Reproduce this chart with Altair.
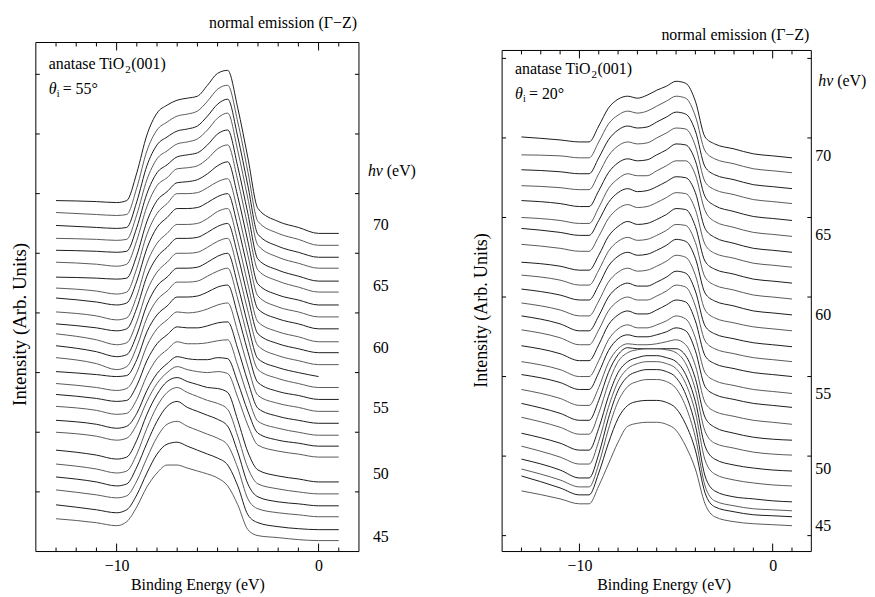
import altair as alt
import pandas as pd

FONT = "Liberation Serif"

# ---------------- data ----------------
binding_energy = [-13, -11, -10, -9.5, -9, -8.5, -8, -7.5, -7, -6.5, -6, -5.5,
                  -5, -4.5, -4, -3.5, -3, -2, -1, 0, 1]
photon_energy = [70, 69, 68, 67, 66, 65, 64, 63, 62, 61, 60, 59, 58, 57, 56,
                 55, 54, 53, 52, 51, 50, 49, 48, 47, 46, 45]

# theta_i = 55 deg panel : vertical offset of each spectrum and its profile
left_offset = [320, 308, 296, 285, 272, 261, 248, 236, 224, 211, 200, 188, 176,
               165, 153, 141, 129, 117, 106, 95, 70, 58, 46, 35, 22, 11]
left_profile = [
    [33, 32, 31, 33, 61, 99, 121, 129, 134, 136, 138, 149, 161, 164, 126, 76, 25, 12, 6, 0, 0],
    [33, 31, 30, 31, 58, 95, 116, 124, 130, 132, 135, 145, 157, 161, 124, 74, 24, 12, 6, 0, 0],
    [32, 30, 29, 30, 56, 92, 113, 121, 127, 129, 132, 142, 154, 159, 121, 72, 23, 11, 5, 0, 0],
    [30, 29, 28, 29, 54, 89, 110, 118, 125, 127, 130, 139, 151, 156, 118, 70, 23, 11, 5, 0, 0],
    [31, 30, 29, 30, 54, 88, 109, 117, 125, 127, 129, 137, 148, 152, 115, 68, 22, 11, 5, 0, 0],
    [30, 28, 26, 28, 52, 86, 107, 115, 124, 125, 127, 134, 144, 148, 112, 66, 22, 11, 5, 0, 0],
    [28, 27, 26, 27, 50, 84, 105, 114, 123, 124, 126, 132, 140, 144, 109, 64, 21, 10, 5, 0, 0],
    [29, 26, 23, 25, 49, 83, 104, 114, 124, 124, 125, 130, 136, 139, 106, 62, 21, 10, 5, 0, 0],
    [31, 27, 24, 26, 48, 81, 102, 112, 121, 121, 122, 127, 133, 136, 103, 60, 20, 10, 5, 0, 0],
    [30, 26, 22, 24, 46, 79, 99, 109, 118, 118, 119, 124, 131, 134, 101, 58, 20, 10, 5, 0, 0],
    [29, 25, 22, 24, 45, 77, 96, 106, 115, 115, 116, 121, 127, 130, 98, 56, 19, 9, 4, 0, 0],
    [31, 25, 20, 22, 43, 74, 93, 103, 112, 112, 113, 118, 124, 127, 95, 54, 19, 9, 4, 0, 0],
    [31, 25, 20, 22, 42, 72, 91, 100, 109, 109, 110, 115, 121, 124, 92, 52, 18, 9, 4, 0, None],
    [30, 24, 18, 21, 41, 70, 88, 97, 106, 106, 107, 112, 117, 120, 89, 50, 18, 9, 4, 0, 0],
    [28, 25, 23, 24, 40, 68, 85, 94, 103, 103, 104, 108, 113, 115, 85, 48, 17, 8, 4, 0, 0],
    [28, 24, 21, 23, 39, 66, 83, 92, 100, 99, 100, 103, 107, 109, 80, 45, 16, 8, 4, 0, 0],
    [29, 25, 22, 23, 38, 63, 80, 89, 97, 96, 96, 98, 101, 102, 75, 42, 15, 7, 3, 0, 0],
    [29, 25, 21, 22, 36, 60, 77, 86, 94, 92, 92, 93, 95, 96, 70, 39, 14, 7, 3, 0, 0],
    [26, 22, 18, 20, 33, 56, 73, 83, 90, 88, 87, 87, 89, 88, 64, 35, 13, 6, 3, 0, 0],
    [25, 21, 17, 19, 33, 56, 74, 85, 91, 88, 86, 85, 86, 84, 60, 32, 12, 6, 3, 0, 0],
    [32, 27, 23, 25, 42, 68, 88, 101, 105, 101, 98, 95, 94, 90, 62, 30, 12, 6, 3, 0, 0],
    [30, 25, 21, 23, 40, 66, 88, 102, 107, 102, 98, 94, 91, 85, 58, 26, 10, 5, 2, 0, 0],
    [29, 24, 20, 22, 39, 63, 85, 100, 105, 99, 95, 91, 87, 80, 54, 22, 9, 4, 2, 0, 0],
    [27, 22, 19, 21, 36, 59, 80, 93, 96, 91, 87, 83, 79, 72, 49, 18, 8, 4, 2, 0, 0],
    [25, 20, 17, 20, 35, 57, 76, 86, 88, 84, 80, 76, 72, 65, 44, 15, 7, 3, 1, 0, 0],
    [22, 18, 15, 19, 34, 54, 68, 76, 76, 73, 70, 67, 63, 55, 36, 11, 5, 3, 1, 0, 0],
]

# theta_i = 20 deg panel
right_offset = [380, 365, 349, 334, 317, 301, 285, 270, 254, 238, 222, 206, 190,
                175, 160, 143, 129, 112, 96, 81, 65, 50, 34, 25, 19, 10]
right_profile = [
    [21, 18, 16, 16, 32, 50, 59, 62, 60, 63, 68, 72, 77, 75, 57, 21, 14, 9, 4, 2, 0],
    [18, 17, 15, 15, 31, 49, 58, 62, 60, 62, 67, 72, 77, 75, 57, 22, 14, 9, 4, 2, 0],
    [19, 17, 15, 15, 31, 49, 59, 63, 61, 62, 67, 72, 77, 75, 58, 22, 14, 9, 4, 2, 0],
    [18, 16, 14, 14, 30, 48, 58, 62, 60, 61, 66, 71, 76, 75, 58, 22, 14, 9, 4, 2, 0],
    [20, 17, 14, 14, 30, 48, 58, 62, 60, 61, 66, 71, 77, 76, 60, 24, 15, 9, 4, 2, 0],
    [19, 16, 13, 13, 29, 48, 58, 63, 61, 61, 66, 71, 76, 76, 62, 26, 15, 9, 4, 2, 0],
    [24, 20, 17, 17, 32, 50, 60, 64, 61, 62, 66, 71, 76, 75, 60, 24, 15, 9, 4, 2, 0],
    [23, 19, 16, 16, 31, 49, 59, 63, 60, 61, 65, 70, 75, 74, 58, 23, 14, 9, 4, 2, 0],
    [21, 17, 13, 13, 28, 47, 57, 62, 59, 60, 64, 69, 75, 74, 57, 22, 14, 9, 4, 2, 0],
    [24, 19, 14, 14, 29, 48, 58, 62, 59, 60, 64, 69, 75, 74, 57, 22, 14, 9, 4, 2, 0],
    [26, 20, 15, 15, 30, 49, 59, 63, 60, 61, 65, 70, 76, 74, 57, 22, 14, 9, 4, 2, 0],
    [28, 21, 15, 15, 30, 49, 59, 63, 60, 61, 65, 70, 76, 74, 56, 21, 13, 8, 4, 2, 0],
    [31, 23, 16, 16, 31, 50, 60, 64, 61, 61, 65, 70, 76, 74, 56, 21, 13, 8, 4, 2, 0],
    [32, 24, 17, 17, 32, 51, 61, 65, 62, 62, 66, 71, 77, 75, 56, 21, 13, 8, 4, 2, 0],
    [31, 23, 16, 16, 32, 52, 62, 66, 63, 63, 67, 72, 77, 75, 56, 21, 13, 8, 4, 2, 0],
    [32, 24, 17, 17, 33, 54, 65, 69, 66, 66, 69, 73, 78, 75, 56, 21, 13, 8, 4, 2, 0],
    [33, 25, 18, 18, 35, 57, 69, 73, 71, 71, 73, 76, 80, 77, 57, 21, 13, 8, 4, 2, 0],
    [35, 26, 19, 19, 37, 62, 76, 81, 80, 80, 81, 83, 85, 80, 59, 22, 13, 8, 4, 2, 0],
    [37, 27, 20, 20, 40, 68, 86, 93, 92, 92, 92, 92, 92, 85, 62, 23, 13, 7, 3, 1, 0],
    [38, 28, 21, 21, 42, 72, 94, 103, 106, 107, 107, 106, 103, 92, 66, 24, 12, 7, 3, 1, 0],
    [38, 28, 21, 21, 43, 75, 99, 110, 114, 116, 116, 114, 110, 97, 70, 25, 12, 6, 3, 1, 0],
    [40, 29, 22, 22, 45, 79, 105, 118, 123, 125, 125, 123, 118, 103, 74, 26, 12, 6, 3, 1, 0],
    [43, 32, 24, 24, 48, 84, 112, 126, 131, 133, 133, 131, 125, 108, 77, 26, 11, 5, 3, 1, 0],
    [42, 31, 24, 24, 47, 82, 110, 125, 130, 132, 132, 130, 123, 105, 74, 25, 10, 5, 2, 1, 0],
    [41, 29, 22, 22, 44, 74, 99, 112, 116, 117, 117, 115, 109, 93, 67, 24, 10, 5, 2, 1, 0],
    [35, 27, 22, 22, 40, 62, 84, 100, 103, 104, 104, 102, 96, 80, 57, 22, 9, 4, 2, 1, 0],
]

hv_labels = ["70", "65", "60", "55", "50", "45"]
left_label_pos = [328, 267, 205, 144, 78, 15]
right_label_pos = [382, 302, 222, 142, 67, 10]
left_intensity_ticks = [60, 120, 180, 240, 300, 360, 420, 480]
right_intensity_ticks = [0, 80, 160, 240, 320, 400, 480]
minor_energy_ticks = [-13, -12, -11, -9, -8, -7, -6, -5, -4, -3, -2, -1, 1]
major_energy_ticks = [-10, 0]

H = 512


def spectra(offsets, profiles):
    rows = []
    for i, (hv, off, prof) in enumerate(zip(photon_energy, offsets, profiles)):
        for e, v in zip(binding_energy, prof):
            if v is None:
                continue
            rows.append({"hv": hv, "E": e, "I": off + v, "shade": "a" if i % 2 == 0 else "b"})
    return pd.DataFrame(rows)


def note(text, x, y, size=16, italic=False, align="left", baseline="alphabetic"):
    kw = dict(align=align, baseline=baseline, font=FONT, fontSize=size, color="black")
    if italic:
        kw["fontStyle"] = "italic"
    return alt.Chart(pd.DataFrame({"t": [text]})).mark_text(**kw).encode(
        x=alt.value(x), y=alt.value(y), text="t:N")


def panel(df, W, ydom, top_px, yticks, label_pos, label_dx, hv_h, hv_dx,
          title_y, annot_y, theta_text, ytitle_x, ytitle_y, ytitle_size, xtitle_x, anchor):
    xs = alt.Scale(domain=[-14, 2], nice=False, zero=False)
    ys = alt.Scale(domain=ydom, nice=False, zero=False)
    x_axis = alt.Axis(
        values=major_energy_ticks, ticks=False, tickSize=0, domain=False, grid=False,
        labelFont=FONT, labelFontSize=16, labelColor="black", labelPadding=19,
        labelBaseline="alphabetic", title="Binding Energy (eV)", titleFont=FONT,
        titleFontSize=16, titleFontWeight="normal", titleColor="black",
        titleBaseline="alphabetic", titleX=xtitle_x, titleY=38)
    y_axis = alt.Axis(
        labels=False, ticks=False, domain=False, grid=False,
        title="Intensity (Arb. Units)", titleFont=FONT, titleFontSize=ytitle_size,
        titleFontWeight="normal", titleColor="black", titleAngle=270,
        titleX=ytitle_x, titleY=ytitle_y, titleBaseline="middle", titleAlign="center")
    lines = alt.Chart(df).mark_line(interpolate="monotone", strokeWidth=1).encode(
        x=alt.X("E:Q", scale=xs, axis=x_axis),
        y=alt.Y("I:Q", scale=ys, axis=y_axis),
        detail="hv:N",
        color=alt.Color("shade:N", scale=alt.Scale(domain=["a", "b"], range=["#1c1c1c", "#5a5a5a"]),
                        legend=None))

    minor_df = pd.DataFrame({"E": minor_energy_ticks})
    major_df = pd.DataFrame({"E": major_energy_ticks})
    ytick_df = pd.DataFrame({"I": yticks})
    rule = dict(color="black", strokeWidth=1)
    xt = alt.X("E:Q", scale=xs)
    yt = alt.Y("I:Q", scale=ys)
    one = pd.DataFrame({"k": [0]})
    layers = [
        lines,
        alt.Chart(minor_df).mark_rule(**rule).encode(x=xt, y=alt.value(H), y2=alt.value(H - 4)),
        alt.Chart(minor_df).mark_rule(**rule).encode(x=xt, y=alt.value(top_px), y2=alt.value(top_px + 4)),
        alt.Chart(major_df).mark_rule(**rule).encode(x=xt, y=alt.value(H), y2=alt.value(H - 8)),
        alt.Chart(major_df).mark_rule(**rule).encode(x=xt, y=alt.value(top_px), y2=alt.value(top_px + 8)),
        alt.Chart(ytick_df).mark_rule(**rule).encode(y=yt, x=alt.value(0), x2=alt.value(4)),
        alt.Chart(ytick_df).mark_rule(**rule).encode(y=yt, x=alt.value(W - 4), x2=alt.value(W)),
        alt.Chart(one).mark_rect(fillOpacity=0, stroke="black", strokeWidth=1).encode(
            x=alt.value(0), x2=alt.value(W), y=alt.value(top_px), y2=alt.value(H)),
        alt.Chart(pd.DataFrame({"label": hv_labels, "I": label_pos})).mark_text(
            align="left", baseline="middle", font=FONT, fontSize=16, color="black").encode(
            x=alt.value(W + label_dx), y=yt, text="label:N"),
        alt.Chart(pd.DataFrame({"t": ["hν"], "I": [hv_h]})).mark_text(
            align="left", baseline="middle", font=FONT, fontSize=16, fontStyle="italic", color="black").encode(
            x=alt.value(W + hv_dx), y=yt, text="t:N"),
        alt.Chart(pd.DataFrame({"t": ["(eV)"], "I": [hv_h]})).mark_text(
            align="left", baseline="middle", font=FONT, fontSize=16, color="black").encode(
            x=alt.value(W + hv_dx + 19), y=yt, text="t:N"),
        note("normal emission (Γ−Z)", W - 2, title_y, align="right"),
        note("anatase TiO", 13, annot_y),
        note("2", 90, annot_y + 4, size=11),
        note("(001)", 96, annot_y),
        note("θ", 13, annot_y + 25, italic=True),
        note("i", 21, annot_y + 28, size=10),
        note(theta_text, 27, annot_y + 25),
    ]
    if anchor:
        # invisible layout anchor fixing the top-left corner of the drawing
        layers.append(alt.Chart(one).mark_rule(strokeOpacity=0, strokeWidth=0.01).encode(
            x=alt.value(-28), x2=alt.value(-27), y=alt.value(-33), y2=alt.value(-32)))
    return alt.layer(*layers).properties(width=W, height=H)


left = panel(spectra(left_offset, left_profile), 325, [0, 512], 0, left_intensity_ticks,
             left_label_pos, 14, 383, 9, -15, 27, "= 55°", -16, 283, 19, 162.5, True)
right = panel(spectra(right_offset, right_profile), 311, [-16, 496], 8, right_intensity_ticks,
              right_label_pos, 4, 457, 7, -3, 32, "= 20°", -21, 269, 18, 162.5, False)

chart = alt.hconcat(left, right, spacing=144, bounds="flush").properties(
    padding={"left": 0, "top": 0, "right": 0, "bottom": 0}
).configure_view(strokeWidth=0)

chart.save("out.html", embed_options={"renderer": "svg", "actions": False})
